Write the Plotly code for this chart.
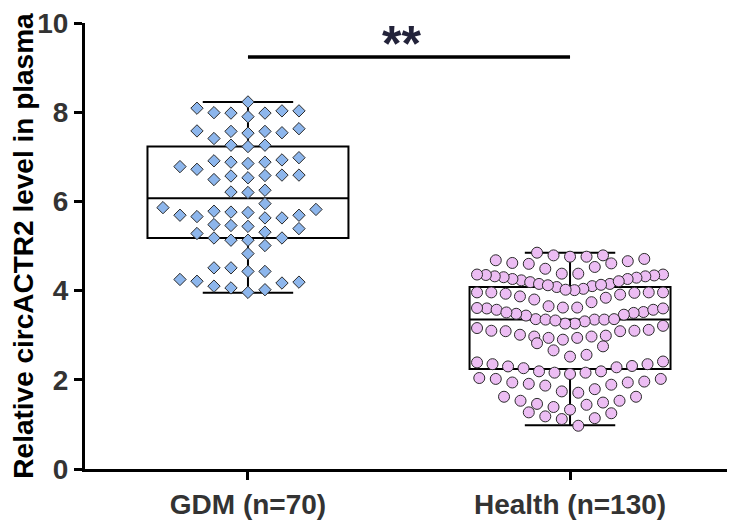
import numpy as np
import plotly.graph_objects as go

# ---------------- data ----------------
categories = ["GDM (n=70)", "Health (n=130)"]

gdm_values = [
    8.23,
    8.03, 7.99, 7.98, 7.90, 7.98, 8.03, 8.09,
    7.63, 7.58, 7.54, 7.41, 7.53, 7.57, 7.57,
    7.26, 7.23, 7.26,
    6.93, 6.88, 6.85, 6.72, 6.98, 6.78, 6.88, 6.91,
    6.49, 6.59, 6.57, 6.58, 6.53, 6.59,
    6.21, 6.20, 6.25,
    5.95, 5.82, 5.76, 5.69, 5.66, 5.69, 5.75, 5.78, 5.86,
    5.63, 5.48, 5.44, 5.31, 5.39, 5.46, 5.63,
    5.18, 5.13, 5.28, 5.13, 5.18,
    5.01,
    4.83,
    4.51, 4.43, 4.43, 4.51,
    4.21, 4.17, 4.06, 4.02, 4.10, 4.19, 4.25,
    3.96,
]

health_values = [
    4.85, 4.79, 4.76, 4.68, 4.62, 4.60, 4.53, 4.61, 4.66, 4.71, 4.76, 4.79,
    4.38, 4.36, 4.34, 4.32, 4.29, 4.26, 4.23, 4.19, 4.15, 4.10, 4.08, 4.15,
    4.21, 4.26, 4.30, 4.32, 4.35, 4.36, 4.38, 4.49, 4.12, 4.13,
    4.04, 4.01, 3.96, 3.95, 3.93, 3.87, 3.80, 3.74, 3.84, 3.91, 3.96, 3.96,
    3.96, 4.02,
    3.65, 3.62, 3.60, 3.57, 3.52, 3.50, 3.46, 3.36, 3.35, 3.35, 3.35, 3.36,
    3.44, 3.48, 3.51, 3.57, 3.60, 3.61, 3.62,
    3.31, 3.26, 3.16, 3.10, 3.09, 3.01, 2.97, 2.97, 2.99, 3.09, 3.12, 3.10,
    3.21, 3.26, 3.33,
    2.94, 2.90, 2.75, 2.56, 2.66, 2.82, 2.94,
    2.41, 2.35, 2.31, 2.28, 2.19, 2.19, 2.26, 2.30, 2.35, 2.39, 2.52,
    2.16, 2.13, 2.02, 1.96, 1.94, 1.89, 1.79, 1.87, 1.91, 1.94, 2.02, 2.04,
    2.16,
    1.74, 1.62, 1.53, 1.49, 1.44, 1.39, 1.46, 1.53, 1.62, 1.71,
    1.33, 1.25, 1.14, 1.12, 1.18, 1.27,
    0.97,
]

# box statistics
box_q1 = [5.18, 2.24]
box_median = [6.07, 3.35]
box_q3 = [7.23, 4.08]
box_lower = [3.95, 0.98]
box_upper = [8.23, 4.85]

significance_label = "**"
y_ticks = [0, 2, 4, 6, 8, 10]

# ---------------- layout helpers ----------------
# the page body has an 8px margin, so the figure is sized to end at the window edge
W, H = 727, 513
ML, MR, MT, MB = 77, 2, 15, 52
XR = [-0.506, 1.506]
YR = [0, 10]
px_per_x = (W - ML - MR) / (XR[1] - XR[0])
px_per_y = (H - MT - MB) / (YR[1] - YR[0])


def row_scatter(vals, bin_h, step_px, max_w_px):
    """Prism-like scatter: values grouped into horizontal rows, spread
    symmetrically around the category centre."""
    vals = np.asarray(vals, dtype=float)
    order = np.argsort(vals, kind="stable")
    xs = np.zeros(len(vals))
    rows, cur, start = [], [], None
    for i in order:
        if start is None or vals[i] >= start + bin_h - 1e-9:
            if cur:
                rows.append(cur)
            cur, start = [i], vals[i]
        else:
            cur.append(i)
    if cur:
        rows.append(cur)
    for r, row in enumerate(rows):
        n = len(row)
        step = step_px if n < 2 else min(step_px, max_w_px / (n - 1))
        slots = np.arange(n) - (n - 1) / 2.0
        slot_order = sorted(range(n), key=lambda k: (abs(slots[k]), -slots[k] * (1 if r % 2 == 0 else -1)))
        for idx, k in zip(row, slot_order):
            xs[idx] = slots[k] * step
    return xs / px_per_x


def swarm(vals, sep_x, sep_y):
    """Collision based scatter: a point may not be closer than sep_x
    horizontally to any earlier point lying within sep_y vertically."""
    vals = np.asarray(vals, dtype=float)
    ys = vals * px_per_y
    order = np.argsort(vals, kind="stable")
    xs = np.zeros(len(vals))
    placed = []
    flip = 1
    for i in order:
        iv = [(px - sep_x, px + sep_x) for px, py in placed if abs(py - ys[i]) < sep_y]
        cands = [0.0] + [a for a, b in iv] + [b for a, b in iv]
        ok = [c for c in cands if all(not (a + 1e-6 < c < b - 1e-6) for a, b in iv)]
        m = min(abs(c) for c in ok)
        near = [c for c in ok if abs(abs(c) - m) < 0.5]
        pick = near[0]
        if len(near) > 1:
            pick = max(near) if flip > 0 else min(near)
            flip = -flip
        xs[i] = pick
        placed.append((pick, ys[i]))
    return xs / px_per_x


gdm_x = 0 + swarm(gdm_values, 17.0, 13.0)
health_x = 1 + row_scatter(health_values, 0.36, 16.5, 186)

fig = go.Figure()

fig.add_trace(go.Scatter(
    x=gdm_x, y=gdm_values, mode="markers",
    marker=dict(symbol="diamond", size=9.5, color="#8DB6EC",
                line=dict(color="#2b2b2b", width=1)),
    showlegend=False, hoverinfo="y",
))
fig.add_trace(go.Scatter(
    x=health_x, y=health_values, mode="markers",
    marker=dict(symbol="circle", size=11, color="#ECBDF3",
                line=dict(color="#2b2b2b", width=1)),
    showlegend=False, hoverinfo="y",
))

for i in range(2):
    fig.add_trace(go.Box(
        x=[i], q1=[box_q1[i]], median=[box_median[i]], q3=[box_q3[i]],
        lowerfence=[box_lower[i]], upperfence=[box_upper[i]],
        width=0.624, whiskerwidth=0.45, boxpoints=False,
        line=dict(color="black", width=2), fillcolor="rgba(0,0,0,0)",
        showlegend=False, hoverinfo="skip",
    ))

# significance bar
fig.add_shape(type="line", x0=0, x1=1, y0=9.24, y1=9.24,
              line=dict(color="black", width=3.5))
fig.add_annotation(x=0.478, y=9.53, text=significance_label, showarrow=False,
                   yanchor="middle",
                   font=dict(family="Liberation Sans", size=50, color="#23233a",
                             weight="bold"))

font_family = "Liberation Sans"
fig.update_layout(
    width=W, height=H,
    margin=dict(l=ML, r=MR, t=MT, b=MB, autoexpand=False),
    paper_bgcolor="white", plot_bgcolor="white",
    font=dict(family=font_family),
    xaxis=dict(
        range=XR, tickmode="array", tickvals=[0, 1], ticktext=categories,
        showline=True, linecolor="black", linewidth=3,
        ticks="outside", ticklen=8, tickwidth=3, tickcolor="black",
        showgrid=False, zeroline=False, automargin=False,
        tickfont=dict(family=font_family, size=28, color="#333333", weight="bold"),
    ),
    yaxis=dict(
        range=YR, tickmode="array", tickvals=y_ticks,
        showline=True, linecolor="black", linewidth=3,
        ticks="outside", ticklen=8, tickwidth=3, tickcolor="black",
        showgrid=False, zeroline=False, ticklabeloverflow="allow", automargin=False,
        tickfont=dict(family=font_family, size=28, color="#333333", weight="bold"),
        title=dict(text="Relative circACTR2 level in plasma", standoff=14,
                   font=dict(family=font_family, size=28, color="black",
                             weight="bold")),
    ),
)

fig.write_html("out.html")
